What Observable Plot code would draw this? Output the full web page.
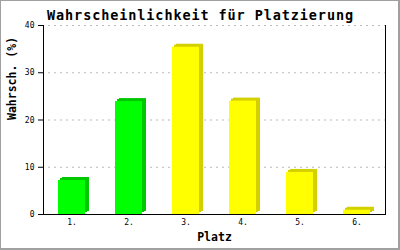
<!DOCTYPE html>
<html>
<head>
<meta charset="utf-8">
<script src="https://cdn.jsdelivr.net/npm/d3@7"></script>
<script src="https://cdn.jsdelivr.net/npm/@observablehq/plot@0.6"></script>
<style>
  html, body { margin: 0; padding: 0; background: #fff; }
  #wrap { position: relative; width: 400px; height: 250px; }
  #wrap svg { display: block; }
  #border { position: absolute; left: 0; top: 0; right: 0; bottom: 0; border: 1px solid #a0a0a0; border-right-width: 2px; border-bottom-width: 2px; pointer-events: none; }
</style>
</head>
<body>
<div id="wrap"><div id="border"></div></div>
<script>
const title = "Wahrscheinlichkeit für Platzierung";
const xLabel = "Platz";
const yLabel = "Wahrsch. (%)";
const places = ["1.", "2.", "3.", "4.", "5.", "6."];
const probabilities = [7.2, 23.9, 35.4, 24.0, 8.9, 0.9];
const yTicks = [0, 10, 20, 30, 40];

const data = places.map((p, i) => ({place: p, value: probabilities[i], i}));
const front = d => d.i < 2 ? "#00ff00" : "#ffff00";
const side = d => d.i < 2 ? "#00c800" : "#d4d000";
const mono = "DejaVu Sans Mono, monospace";

const chart = Plot.plot({
  width: 400,
  height: 250,
  marginLeft: 43,
  marginRight: 15,
  marginTop: 25,
  marginBottom: 36,
  style: {background: "#fff", fontFamily: mono},
  x: {domain: places, paddingInner: 0.526, paddingOuter: 0.263},
  y: {domain: [0, 40]},
  marks: [
    Plot.ruleY(yTicks.filter(t => t > 0), {stroke: "#bbbbbb", strokeDasharray: "2,4", insetLeft: 5}),
    Plot.barY(data, {x: "place", y: "value", fill: side, dx: 4, dy: -3}),
    Plot.barY(data, {x: "place", y: "value", fill: side, dx: 2, dy: -2}),
    Plot.barY(data, {x: "place", y: "value", fill: front}),
    Plot.frame({anchor: "left", stroke: "#000"}),
    Plot.frame({anchor: "right", stroke: "#000"}),
    Plot.ruleY([0], {stroke: "#000"}),
    Plot.axisY({ticks: yTicks, tickSize: 5, tickPadding: 4, label: null, fontSize: 8, fontFamily: mono, stroke: "#000", color: "#000"}),
    Plot.axisX({tickSize: 0, tickPadding: 5, label: null, fontSize: 8, fontFamily: mono}),
    Plot.text([title], {text: d => d, frameAnchor: "top", dx: -14, dy: -15, fontSize: 13.5, fontWeight: "bold", fontFamily: mono, fill: "#000"}),
    Plot.text([xLabel], {text: d => d, frameAnchor: "bottom", dy: 26, fontSize: 11.5, fontWeight: "bold", fontFamily: mono, fill: "#000"}),
    Plot.text([yLabel], {text: d => d, frameAnchor: "left", dx: -31, rotate: -90, fontSize: 11.5, fontWeight: "bold", fontFamily: mono, fill: "#000"})
  ]
});
d3.select(chart).selectAll("text")
  .filter(function() { return this.textContent === title; })
  .style("letter-spacing", "0.9px");
document.getElementById("wrap").prepend(chart);
</script>
</body>
</html>
